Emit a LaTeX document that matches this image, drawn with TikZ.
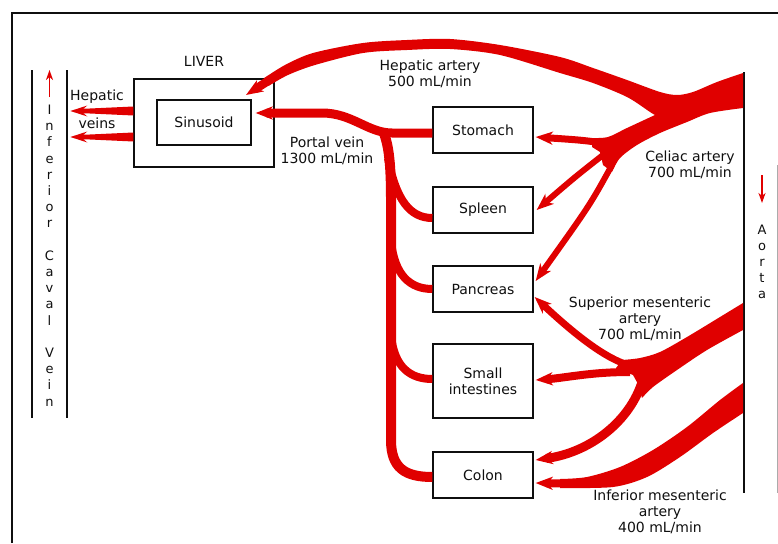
\documentclass[tikz,border=0pt]{standalone}
\usepackage{fontspec}
\setmainfont{DejaVu Sans}
\usetikzlibrary{arrows.meta,calc}
\definecolor{vred}{RGB}{224,0,0}
\definecolor{ink}{RGB}{15,15,15}
\begin{document}
\begin{tikzpicture}[x=1pt,y=-1pt,
  txt/.style={font=\fontsize{14}{16}\selectfont, text=ink, inner sep=0pt, align=center},
  ltr/.style={font=\fontsize{13}{16}\selectfont, text=ink, inner sep=0pt, anchor=base},
  obox/.style={draw=ink, line width=1.3pt, txt},
  organ/.style={obox, minimum width=100pt, minimum height=46pt},
  vessel/.style={draw=vred, line width=#1},
  vhead/.style={-{Stealth[length=17pt,width=13pt,inset=5pt]}},
  smallhead/.style={-{Stealth[length=10pt,width=7pt,inset=3pt]}},
  vwall/.style={draw=ink, line width=1.6pt},
  hvein/.pic={\fill[vred] (0,-4.5) -- (-50,-2.2) -- (-46,-5.5) -- (-63,0) -- (-46,5.5) -- (-50,2.2) -- (0,4.5) -- cycle;}
]
\useasboundingbox (0,0) rectangle (778,543);

% outer frame
\draw[ink, line width=2.7pt] (12,543) -- (12,13) -- (778,13);

% boxes
\node[obox, minimum width=140pt, minimum height=88pt] (liver) at (204,123) {};
\node[txt] (liverlbl) at (204,61) {LIVER};
\node[obox, minimum width=94pt, minimum height=45pt] (sinusoid) at (204,122.5) {Sinusoid};
\node[organ] (stomach) at (483,130) {Stomach};
\node[organ] (spleen) at (483,210) {Spleen};
\node[organ] (pancreas) at (483,289) {Pancreas};
\node[organ, minimum height=74pt] (small) at (483,381) {Small\\intestines};
\node[organ] (colon) at (483,475) {Colon};

% inferior caval vein
\draw[vwall] (32,70) -- (32,418);
\draw[vwall] (67,70) -- (67,418);
\foreach \c [count=\i from 0] in {I,n,f,e,r,i,o,r,{},C,a,v,a,l,{},V,e,i,n}
  \node[ltr] (icv\i) at (49.5,{114.5+16.2*\i}) {\c};
\coordinate (icvtail) at (49.5,97);
\coordinate (icvtip) at (49.5,70);
\draw[vred, line width=1.8pt, smallhead] (icvtail) -- (icvtip);

% aorta
\draw[vwall, line width=1.8pt] (744,72) -- (744,493);
\draw[ink!35, line width=0.8pt] (777,165) -- (777,493);
\foreach \c [count=\i from 0] in {A,o,r,t,a}
  \node[ltr] (ao\i) at (762,{234.5+16*\i}) {\c};
\coordinate (aotail) at (762,175);
\coordinate (aotip) at (762,203);
\draw[vred, line width=1.8pt, smallhead] (aotail) -- (aotip);

% labels
\node[txt] (hvlbl1) at (97,97) {Hepatic};
\node[txt] (hvlbl2) at (97,123) {veins};
\node[txt] (halbl) at (430,74) {Hepatic artery\\500 mL/min};
\node[txt] (pvlbl) at (327,151) {Portal vein\\1300 mL/min};
\node[txt] (calbl) at (690,165) {Celiac artery\\700 mL/min};
\node[txt] (smalbl) at (640,319) {Superior mesenteric\\artery\\700 mL/min};
\node[txt] (imalbl) at (660,512) {Inferior mesenteric\\artery\\400 mL/min};

% hepatic veins
\coordinate (hv1) at ($(liver.west)+(0,-12)$);
\coordinate (hv2) at ($(liver.west)+(0,14)$);
\pic at (hv1) {hvein};
\pic at (hv2) {hvein};

% celiac trunk + hepatic artery
\fill[vred] plot[smooth] coordinates {(612,172) (620,158) (637,145) (660,133) (687,122) (710,113) (743,108)}
  -- (743,73)
  -- plot[smooth] coordinates {(743,73) (717,82) (693,92) (677,95) (660,92) (627,80) (593,68) (560,57) (500,45) (450,39) (407,40) (363,43) (313,53) (285,65) (263.8,78.3)}
  -- plot[smooth] coordinates {(268.6,85.9) (288,75) (315,65) (363,53) (407,50) (450,49) (500,55) (560,73) (593,83) (627,97) (650,112) (655,115)}
  -- plot[smooth] coordinates {(655,115) (627,128) (608,137) (592,138)}
  -- (592,147) -- (600,152) -- (603,165) -- cycle;
\coordinate (hatip) at (246,95);
\draw[vessel=8.5pt, vhead] (270.4,79.5) -- (hatip);

% celiac branches
\draw[vessel=7pt, vhead] (600,142.5) .. controls (580,140) .. ($(stomach.east)+(2,7)$);
\draw[vessel=6pt, vhead] (603,155) .. controls (575,177) .. ($(spleen.east)+(3,0)$);
\draw[vessel=6pt, vhead] (612,165) .. controls (590,205) .. ($(pancreas.east)+(2,-8)$);

% superior mesenteric artery
\fill[vred] plot[smooth] coordinates {(743,303) (720,317) (687,337) (660,352) (640,358) (622,360)}
  -- (616,368) -- (633,375) -- (638,384)
  -- plot[smooth] coordinates {(642,398) (653,387) (677,370) (707,350) (743,330)} -- cycle;
\draw[vessel=7pt, vhead] (625,364) .. controls (600,355) and (570,330) .. ($(pancreas.east)+(1,8)$);
\draw[vessel=8pt, vhead] (630,372) .. controls (590,372) and (565,378) .. ($(small.east)+(2,-1)$);
\draw[vessel=9pt, vhead] (642,382) .. controls (630,420) and (592,452) .. ($(colon.east)+(2,-15)$);

% inferior mesenteric artery
\fill[vred] plot[smooth] coordinates {(743,383) (720,400) (687,427) (653,450) (620,467) (587,477) (560,479)}
  -- (560,488)
  -- plot[smooth] coordinates {(560,488) (613,487) (647,477) (680,457) (713,433) (743,413)} -- cycle;
\draw[vessel=8pt, vhead] (566,483.5) -- ($(colon.east)+(2,8)$);

% portal vein system
\draw[vessel=9pt, vhead] ($(stomach.west)+(0,3)$) -- (392,133) .. controls (368,133) and (352,113) .. (322,113) -- ($(sinusoid.east)+(4,-9.5)$);
\draw[vessel=10pt] (383,131) .. controls (389,145) and (391,165) .. (391,200) -- (391,440) .. controls (391,468) and (405,477) .. ($(colon.west)+(0,2)$);
\draw[vessel=8pt] (388,158) .. controls (396,200) and (410,218) .. ($(spleen.west)+(0,8)$);
\draw[vessel=8pt] (391,240) .. controls (394,275) and (410,289) .. (pancreas.west);
\draw[vessel=8pt] (391,335) .. controls (394,367) and (410,379) .. ($(small.west)+(0,-2)$);
\end{tikzpicture}
\end{document}
